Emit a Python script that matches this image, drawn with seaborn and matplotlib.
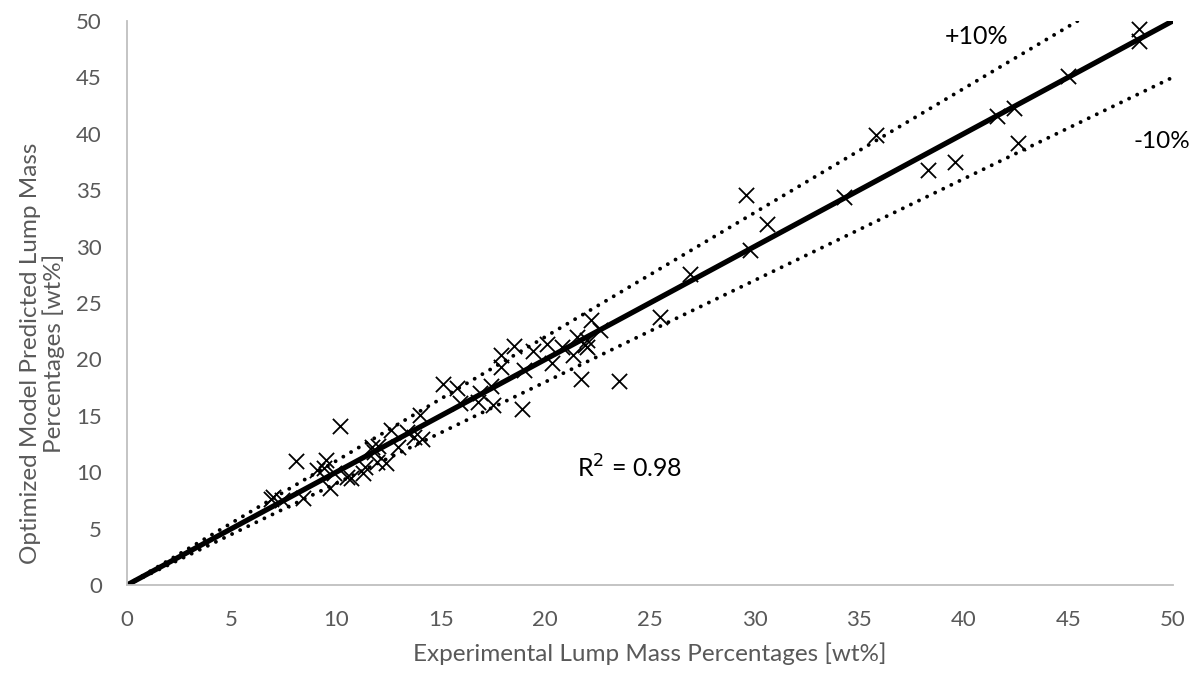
import matplotlib
matplotlib.use("Agg")
import matplotlib.pyplot as plt
import numpy as np
import pandas as pd
import seaborn as sns

# Experimental vs. model-predicted lump mass percentages [wt%]
experimental = [
    10.2, 8.1, 9.5, 9.1, 9.4, 9.7, 10.7, 11.3, 11.7, 11.95, 12.4, 12.6, 12.95,
    7.0, 8.4, 13.7, 7.4, 6.9, 9.9, 10.5, 11.4, 11.8, 12.0,
    13.4, 14.1, 14.0, 15.1, 15.8, 15.9, 16.8, 17.4, 17.5, 16.9, 17.9, 17.9,
    18.5, 19.0, 18.9, 19.4, 20.1, 20.3, 20.8, 21.3, 21.7, 21.9, 21.5, 22.0,
    23.5, 22.2, 22.6, 25.5, 26.9, 22.0, 29.6, 30.6, 29.8, 34.3, 35.8, 38.3,
    39.6, 41.6, 42.4, 42.6, 45.0, 48.4, 48.4,
]
predicted = [
    14.1, 11.0, 11.1, 10.2, 10.4, 8.6, 9.5, 9.9, 12.2, 10.9, 10.8, 13.7, 12.2,
    7.8, 7.7, 13.1, 7.5, 7.6, 9.9, 9.6, 10.5, 11.8, 12.3,
    13.6, 12.9, 15.1, 17.8, 17.5, 16.1, 16.2, 17.6, 16.0, 17.0, 20.4, 19.3,
    21.2, 19.1, 15.6, 20.7, 21.4, 19.7, 21.1, 20.4, 18.3, 21.3, 22.0, 21.7,
    18.1, 23.5, 22.6, 23.8, 27.6, 21.1, 34.6, 32.0, 29.7, 34.4, 39.9, 36.8,
    37.5, 41.6, 42.3, 39.2, 45.1, 49.3, 48.2,
]

# Reference lines: parity and +/-10 % bands
line_x = [0, 50]
band_factors = {"+10%": 1.1, "-10%": 0.9}
axis_ticks = [0, 5, 10, 15, 20, 25, 30, 35, 40, 45, 50]
r_squared = 0.98

sns.set_theme(style="white")
plt.rcParams["font.family"] = ["Lato", "DejaVu Sans"]

fig = plt.figure(figsize=(11.98, 6.74), dpi=100)
ax = fig.add_axes([0.106, 0.132, 0.873, 0.837])

df = pd.DataFrame({"exp": experimental, "pred": predicted})
sns.scatterplot(data=df, x="exp", y="pred", marker="x", s=120, color="black",
                linewidth=1.3, ax=ax, zorder=3)

parity = pd.DataFrame({"x": line_x, "y": line_x})
sns.lineplot(data=parity, x="x", y="y", color="black", linewidth=3.8, ax=ax,
             zorder=2)

for label, f in band_factors.items():
    band = pd.DataFrame({"x": line_x, "y": [v * f for v in line_x]})
    sns.lineplot(data=band, x="x", y="y", color="black", linewidth=2.8,
                 linestyle=(0, (0.01, 2.3)), dash_capstyle="round", ax=ax,
                 zorder=2)

ax.set_xlim(0, 50)
ax.set_ylim(0, 50)
ax.set_xticks(axis_ticks)
ax.set_yticks(axis_ticks)
ax.tick_params(axis="both", length=0, labelsize=16, labelcolor="#595959",
               pad=18)

for side in ("top", "right"):
    ax.spines[side].set_visible(False)
for side in ("left", "bottom"):
    ax.spines[side].set_color("#bfbfbf")
    ax.spines[side].set_linewidth(1.3)

ax.set_xlabel("Experimental Lump Mass Percentages [wt%]", fontsize=17.5,
              color="#595959", labelpad=9)
ax.set_ylabel("Optimized Model Predicted Lump Mass\nPercentages [wt%]",
              fontsize=17.5, color="#595959", linespacing=1.1)
ax.yaxis.set_label_coords(-0.059, 0.41)

ax.text(21.5, 10.4, f"R$^2$ = {r_squared:.2f}", fontsize=18, color="black",
        ha="left", va="center")
ax.text(39.1, 48.6, "+10%", fontsize=18, color="black", ha="left",
        va="center")
ax.text(48.1, 39.3, "-10%", fontsize=17.5, color="black", ha="left",
        va="center", clip_on=False)

fig.savefig("out.png", dpi=100)
